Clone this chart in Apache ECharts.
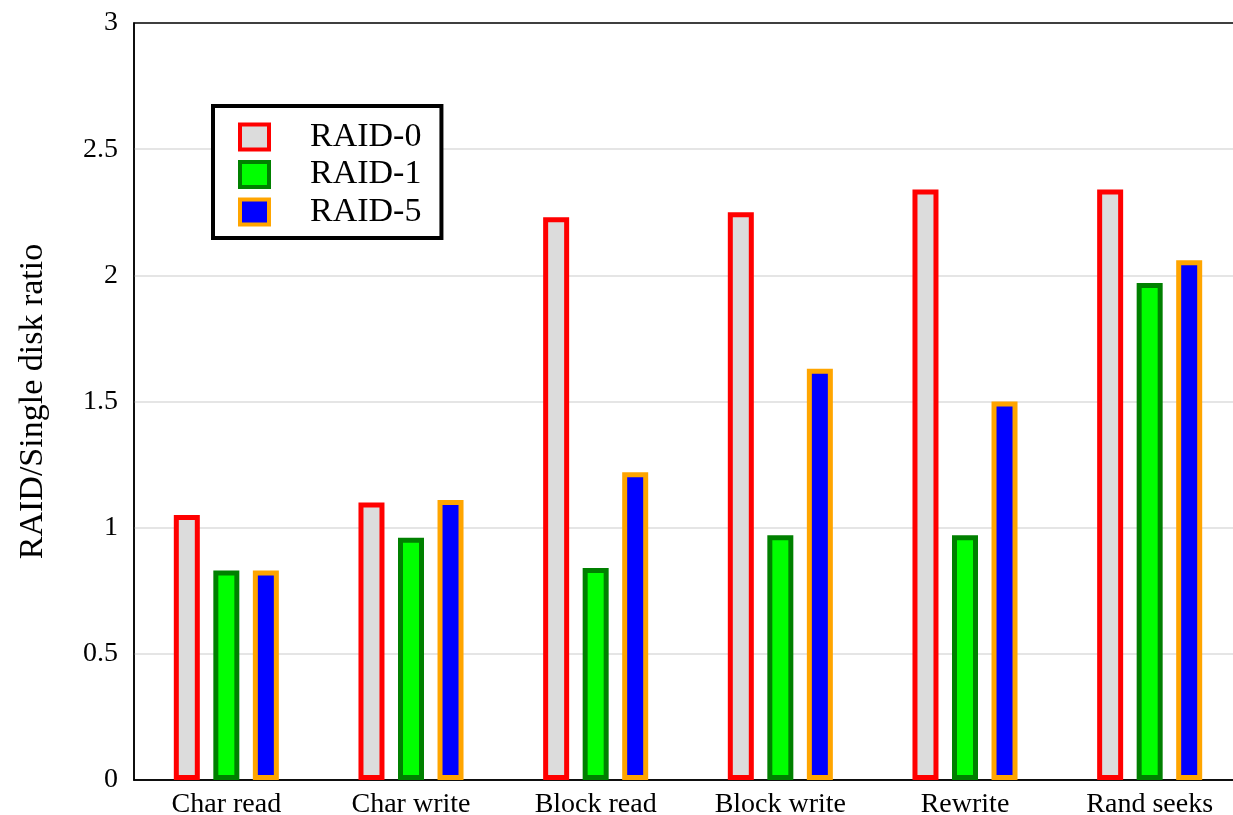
<!DOCTYPE html>
<html>
<head>
<meta charset="utf-8">
<script src="https://cdn.jsdelivr.net/npm/echarts@6/dist/echarts.min.js"></script>
<style>
html,body{margin:0;padding:0;background:#fff;}
#chart{width:1233px;height:815px;}
</style>
</head>
<body>
<div id="chart"></div>
<script>
const categories = ['Char read', 'Char write', 'Block read', 'Block write', 'Rewrite', 'Rand seeks'];
const raid0 = [1.05, 1.10, 2.23, 2.25, 2.34, 2.34];
const raid1 = [0.83, 0.96, 0.84, 0.97, 0.97, 1.97];
const raid5 = [0.83, 1.11, 1.22, 1.63, 1.50, 2.06];
const seriesNames = ['RAID-0', 'RAID-1', 'RAID-5'];
const yTicks = [0, 0.5, 1, 1.5, 2, 2.5, 3];

const FONT = '"Liberation Serif", "Times New Roman", serif';
const chart = echarts.init(document.getElementById('chart'), null, {renderer: 'canvas'});

function barSeries(name, data, fill, border) {
  return {
    name: name,
    type: 'bar',
    data: data,
    barWidth: 26,
    barGap: '52%',
    itemStyle: {color: fill, borderColor: border, borderWidth: 5},
    emphasis: {disabled: true}
  };
}

chart.setOption({
  backgroundColor: '#ffffff',
  animation: false,
  grid: {
    left: 134, top: 23, width: 1108, height: 757,
    outerBoundsMode: 'none',
    containLabel: false,
    show: true, borderColor: '#000', borderWidth: 1.5, backgroundColor: 'transparent'
  },
  legend: {
    orient: 'vertical',
    left: 213, top: 106,
    padding: [14, 20, 9, 25],
    icon: 'rect',
    itemWidth: 29, itemHeight: 25, itemGap: 3.5,
    borderColor: '#000', borderWidth: 4,
    backgroundColor: '#fff',
    itemStyle: {borderWidth: 4},
    textStyle: {fontFamily: FONT, fontSize: 34, color: '#000', lineHeight: 30, padding: [0, 0, 0, 36]},
    data: seriesNames
  },
  xAxis: {
    type: 'category',
    data: categories,
    axisLine: {show: true, lineStyle: {color: '#000', width: 1.5}},
    axisTick: {show: false},
    splitLine: {show: false},
    axisLabel: {fontFamily: FONT, fontSize: 28, color: '#000', margin: 11, interval: 0}
  },
  yAxis: {
    type: 'value',
    min: yTicks[0], max: yTicks[yTicks.length - 1], interval: 0.5,
    name: 'RAID/Single disk ratio',
    nameLocation: 'middle',
    nameGap: 84,
    nameTextStyle: {fontFamily: FONT, fontSize: 34, color: '#000'},
    axisLine: {show: true, lineStyle: {color: '#000', width: 1.5}},
    axisTick: {show: false},
    splitLine: {show: true, showMinLine: false, showMaxLine: false, lineStyle: {color: '#dcdcdc', width: 1.5}},
    axisLabel: {fontFamily: FONT, fontSize: 28, color: '#000', margin: 16,
      formatter: v => String(v)}
  },
  series: [
    barSeries(seriesNames[0], raid0, '#dcdcdc', '#ff0000'),
    barSeries(seriesNames[1], raid1, '#00ff00', '#008000'),
    barSeries(seriesNames[2], raid5, '#0000ff', '#ffa500')
  ]
});
</script>
</body>
</html>
